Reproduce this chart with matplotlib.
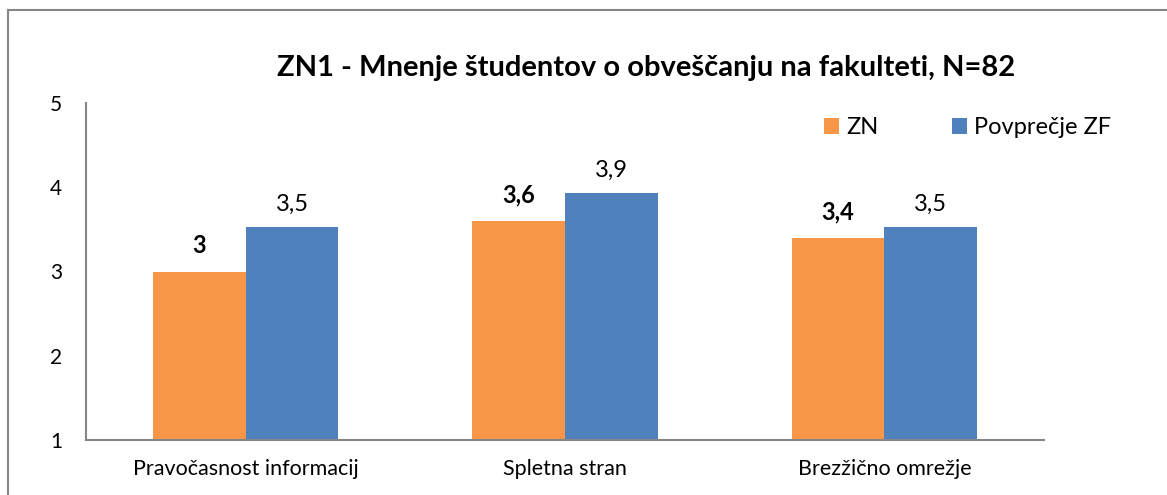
import matplotlib
matplotlib.use("Agg")
import matplotlib.pyplot as plt
from matplotlib.lines import Line2D
import numpy as np

categories = ["Pravočasnost informacij", "Spletna stran", "Brezžično omrežje"]
zn_values = [3.0, 3.6, 3.4]
zf_values = [3.53, 3.93, 3.53]
series_names = ["ZN", "Povprečje ZF"]
title = "ZN1 - Mnenje študentov o obveščanju na fakulteti, N=82"
yticks = [1, 2, 3, 4, 5]

plt.rcParams['font.family'] = ['Lato', 'DejaVu Sans']

W, H = 1167, 495
fig = plt.figure(figsize=(W / 100, H / 100), dpi=100)
ax = fig.add_axes([86 / W, 1 - 440 / H, (1044 - 86) / W, (440 - 103) / H])

orange = "#F79646"
blue = "#4F81BD"
x = np.arange(len(categories))
bw = 0.29
b1 = ax.bar(x - bw / 2, [v - 1 for v in zn_values], bw, bottom=1, color=orange, label=series_names[0])
b2 = ax.bar(x + bw / 2, [v - 1 for v in zf_values], bw, bottom=1, color=blue, label=series_names[1])


def fmt(v):
    s = f"{v:.1f}"
    if s.endswith(".0"):
        s = s[:-2]
    return s.replace(".", ",")


for xi, v in zip(x - bw / 2, zn_values):
    ax.annotate(fmt(v), (xi, v), xytext=(0, 13), textcoords="offset points",
                ha="center", va="baseline", fontsize=17, fontweight="bold", color="black")
for xi, v in zip(x + bw / 2, zf_values):
    ax.annotate(fmt(v), (xi, v), xytext=(0, 11.5), textcoords="offset points",
                ha="center", va="baseline", fontsize=17, color="black")

ax.set_xlim(-0.5, len(categories) - 0.5)
ax.set_ylim(1, 5)
ax.set_yticks(yticks)
ax.set_yticklabels([str(t) for t in yticks], fontsize=15)
ax.set_xticks(x)
ax.set_xticklabels(categories, fontsize=15.5)
ax.tick_params(axis="both", length=0)
ax.tick_params(axis="y", pad=17)
ax.tick_params(axis="x", pad=14)
for s in ["top", "right"]:
    ax.spines[s].set_visible(False)
for s in ["left", "bottom"]:
    ax.spines[s].set_color("#868686")
    ax.spines[s].set_linewidth(1.5)

fig.text(646 / W, 1 - 68 / H, title, ha="center", va="center", fontsize=21, fontweight="bold")

leg = fig.legend(handles=[b1, b2], labels=series_names, loc="center left",
                 bbox_to_anchor=(824 / W, 1 - 128 / H), ncol=2, frameon=False,
                 fontsize=17, handlelength=0.64, handleheight=0.64, handletextpad=0.3,
                 columnspacing=3.1, borderaxespad=0, borderpad=0)

# outer chart border
fig.add_artist(Line2D([8 / W, 8 / W], [0, 1 - 10 / H], transform=fig.transFigure, color="#868686", lw=1.5))
fig.add_artist(Line2D([8 / W, 1], [1 - 10 / H, 1 - 10 / H], transform=fig.transFigure, color="#868686", lw=1.5))

fig.savefig("out.png", dpi=100)
